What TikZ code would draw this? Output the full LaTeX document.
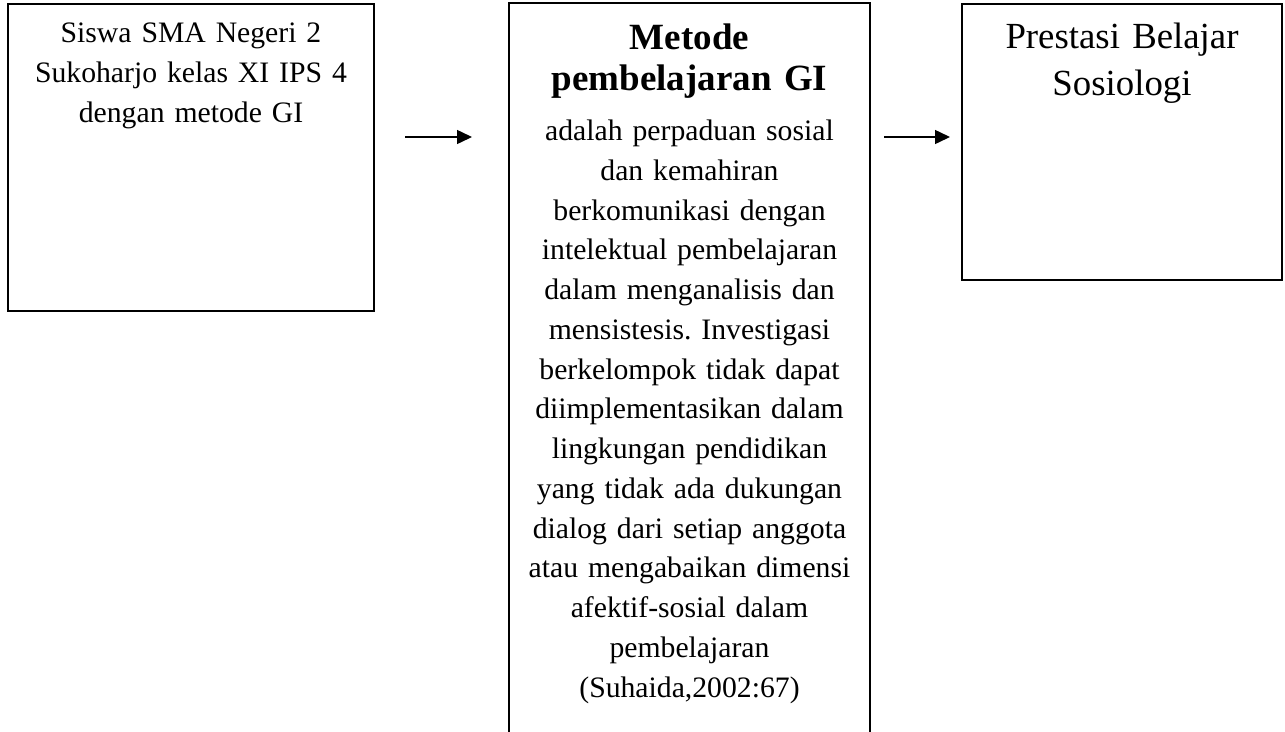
\documentclass[tikz,border=0pt]{standalone}
\usepackage{fontspec}
\setmainfont{Liberation Serif}
\frenchspacing
\usetikzlibrary{arrows.meta}
\tikzset{
  box/.style={draw=black, line width=2pt, inner sep=0pt, outer sep=0pt, fill=none},
  txt/.style={anchor=base, align=center, inner sep=0pt, text width=#1},
  arr/.style={line width=1.5pt, -{Triangle[length=15pt,width=14pt]}},
}
\begin{document}
\begin{tikzpicture}[x=1pt,y=-1pt]
\useasboundingbox (0,0) rectangle (1285,731);
\fill[white] (0,0) rectangle (1285,731);
\begin{scope}
\clip (0,0) rectangle (1285,731);
\node[box, minimum width=366pt, minimum height=307pt] (b1) at (191,157.5) {};
\node[box, minimum width=361pt, minimum height=757pt] (b2) at (689.5,381.5) {};
\node[box, minimum width=320pt, minimum height=276pt] (b3) at (1122,142) {};
\end{scope}
\node[txt=350pt, font=\fontsize{29.7}{40}\selectfont\frenchspacing] (t1) at (191,42)
  {Siswa SMA Negeri 2\\Sukoharjo kelas XI IPS 4\\dengan metode GI};
\node[txt=350pt, font=\fontsize{37}{41.5}\selectfont\bfseries] (t2a) at (689.5,49)
  {Metode\\pembelajaran GI};
\node[txt=355pt, font=\fontsize{29.7}{39.74}\selectfont\frenchspacing] (t2b) at (689.5,140.7)
  {adalah perpaduan sosial\\dan kemahiran\\berkomunikasi dengan\\intelektual pembelajaran\\dalam menganalisis dan\\mensistesis. Investigasi\\berkelompok tidak dapat\\diimplementasikan dalam\\lingkungan pendidikan\\yang tidak ada dukungan\\dialog dari setiap anggota\\atau mengabaikan dimensi\\afektif-sosial dalam\\pembelajaran\\(Suhaida,2002:67)};
\node[txt=310pt, font=\fontsize{36.8}{47}\selectfont] (t3) at (1122,48)
  {Prestasi Belajar\\Sosiologi};
\coordinate (a1s) at (405,137);
\coordinate (a1e) at (472,137);
\coordinate (a2s) at (884,137);
\coordinate (a2e) at (950,137);
\draw[arr] (a1s) -- (a1e);
\draw[arr] (a2s) -- (a2e);
\end{tikzpicture}
\end{document}
